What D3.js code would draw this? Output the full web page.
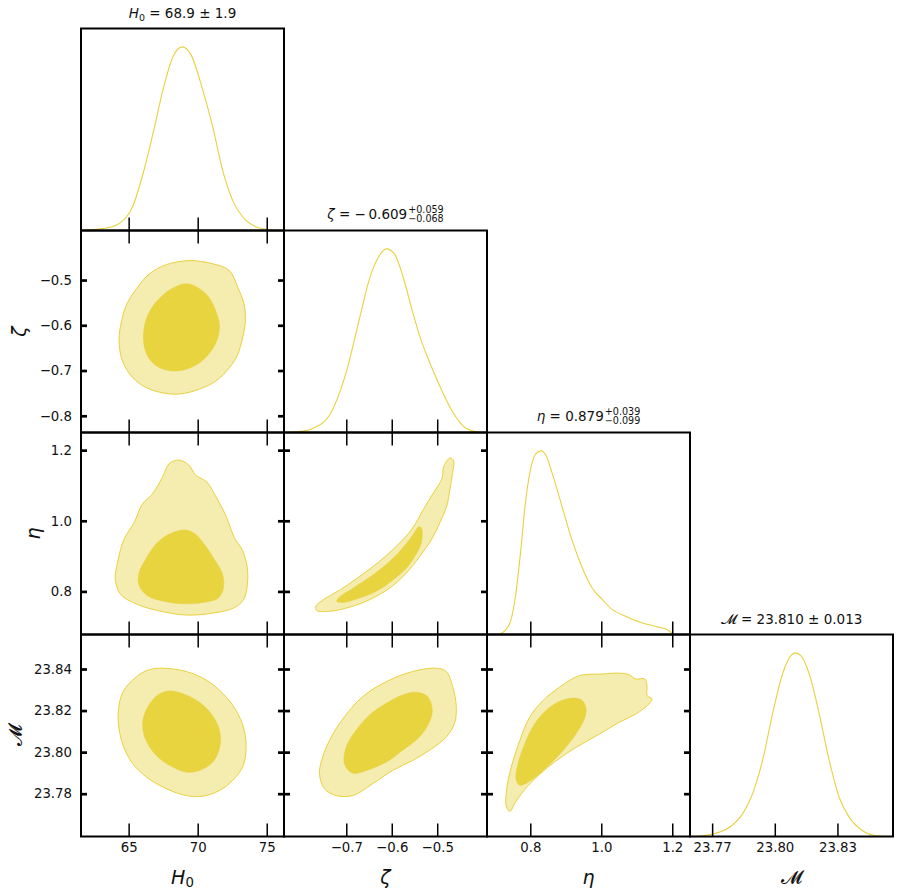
<!DOCTYPE html>
<html>
<head>
<meta charset="utf-8">
<script src="https://cdn.jsdelivr.net/npm/d3@7"></script>
<style>
  body { margin: 0; background: #fff; font-family: "DejaVu Sans", sans-serif; }
  svg { display: block; }
</style>
</head>
<body>
<div id="chart"></div>
<script>

// parameters, axis ranges and ticks
var params = ["H0", "zeta", "eta", "M"];
var domains = [[61.55, 76.25], [-0.837, -0.3905], [0.678, 1.25], [23.7594, 23.8566]];
var xTicks = [[65, 70, 75], [-0.7, -0.6, -0.5], [0.8, 1.0, 1.2], [23.77, 23.80, 23.83]];
var xTickLabels = [["65", "70", "75"], ["\u22120.7", "\u22120.6", "\u22120.5"], ["0.8", "1.0", "1.2"], ["23.77", "23.80", "23.83"]];
var yTicks = [[], [-0.8, -0.7, -0.6, -0.5], [0.8, 1.0, 1.2], [23.78, 23.80, 23.82, 23.84]];
var yTickLabels = [[], ["\u22120.8", "\u22120.7", "\u22120.6", "\u22120.5"], ["0.8", "1.0", "1.2"], ["23.78", "23.80", "23.82", "23.84"]];

// titles
var titleSym = ["H", "\u03b6", "\u03b7", "\ud835\udcdc"];
var titleSub = ["0", "", "", ""];
var titleMean = ["68.9", "\u2212\u20090.609", "0.879", "23.810"];
var titlePlus = ["1.9", "+0.059", "+0.039", "0.013"];
var titleMinus = [null, "\u22120.068", "\u22120.099", null];

// 1D marginals (relative density, peak = 1)
var h0X = [61.6, 62.9, 63.8, 64.36, 65.32, 66.04, 66.76, 67.48, 68.2, 68.88, 69.53, 70.37, 71.09, 71.81, 72.53, 73.5, 74.2, 74.94, 76.2];
var h0Y = [0.0, 0.009, 0.02, 0.04, 0.136, 0.309, 0.527, 0.764, 0.945, 1.0, 0.955, 0.764, 0.564, 0.327, 0.164, 0.055, 0.02, 0.007, 0.0];
var zetaX = [-0.836, -0.80, -0.774, -0.737, -0.700, -0.671, -0.649, -0.627, -0.612, -0.594, -0.576, -0.554, -0.539, -0.517, -0.495, -0.466, -0.436, -0.41, -0.391];
var zetaY = [0.0, 0.006, 0.022, 0.094, 0.33, 0.62, 0.837, 0.964, 1.0, 0.973, 0.855, 0.656, 0.529, 0.384, 0.257, 0.112, 0.022, 0.002, 0.0];
var etaX = [0.713, 0.741, 0.759, 0.773, 0.787, 0.802, 0.816, 0.830, 0.844, 0.862, 0.890, 0.918, 0.946, 0.974, 1.002, 1.030, 1.068, 1.114, 1.161, 1.185, 1.203];
var etaY = [0.0, 0.055, 0.219, 0.456, 0.730, 0.912, 0.985, 1.0, 0.976, 0.876, 0.693, 0.511, 0.365, 0.255, 0.192, 0.137, 0.10, 0.064, 0.04, 0.027, 0.0];
var mX = [23.7605, 23.7701, 23.7781, 23.7845, 23.7893, 23.7941, 23.7989, 23.8037, 23.8077, 23.8098, 23.8125, 23.8165, 23.8213, 23.8261, 23.8309, 23.8357, 23.8421, 23.8485, 23.8565];
var mY = [0, 0.013, 0.049, 0.122, 0.231, 0.413, 0.667, 0.885, 0.985, 1.0, 0.985, 0.885, 0.667, 0.413, 0.211, 0.104, 0.031, 0.004, 0];

// 2D credible regions, [x, y] in data units (95% outer, 68% inner)
var zetaH0Outer = [[69.41,-0.457],[71.09,-0.464],[72.29,-0.479],[72.89,-0.515],[73.37,-0.555],[73.45,-0.592],[73.25,-0.628],[72.89,-0.665],[72.29,-0.694],[71.33,-0.723],[70.13,-0.741],[68.69,-0.752],[67.25,-0.748],[66.04,-0.734],[65.08,-0.708],[64.48,-0.672],[64.31,-0.628],[64.48,-0.592],[64.84,-0.555],[65.57,-0.519],[66.52,-0.486],[67.73,-0.466]];
var zetaH0Inner = [[69.17,-0.508],[70.13,-0.519],[70.85,-0.540],[71.33,-0.570],[71.57,-0.599],[71.45,-0.628],[70.97,-0.657],[70.13,-0.683],[69.17,-0.697],[68.20,-0.701],[67.25,-0.694],[66.52,-0.675],[66.16,-0.650],[66.09,-0.614],[66.40,-0.577],[67.01,-0.548],[67.97,-0.522]];

var etaH0Outer = [[68.64,1.172],[69.36,1.158],[69.84,1.130],[70.68,1.109],[71.28,1.071],[71.88,1.028],[72.24,0.995],[72.65,0.952],[73.21,0.919],[73.57,0.872],[73.61,0.824],[73.33,0.777],[72.61,0.753],[71.16,0.739],[69.24,0.733],[67.32,0.744],[65.64,0.763],[64.43,0.791],[64.03,0.834],[64.19,0.881],[64.67,0.948],[65.40,0.995],[65.99,1.047],[66.72,1.076],[67.44,1.123],[67.92,1.161]];
var etaH0Inner = [[69.12,0.974],[69.84,0.962],[70.56,0.929],[71.28,0.886],[71.76,0.853],[71.88,0.815],[71.52,0.782],[70.44,0.769],[69.00,0.765],[67.56,0.772],[66.36,0.788],[65.76,0.817],[65.76,0.853],[66.24,0.891],[66.96,0.933],[67.92,0.962]];

var mH0Outer = [[67.25,23.8404],[69.17,23.8388],[70.61,23.8347],[71.81,23.8283],[72.77,23.8202],[73.37,23.8106],[73.50,23.8009],[73.25,23.7928],[72.53,23.7864],[71.57,23.7815],[70.37,23.7788],[69.17,23.7791],[67.73,23.7824],[66.29,23.7880],[65.21,23.7952],[64.48,23.8057],[64.24,23.8186],[64.60,23.8291],[65.57,23.8363],[66.29,23.8392]];
var mH0Inner = [[67.97,23.8294],[69.17,23.8275],[70.37,23.8227],[71.21,23.8162],[71.62,23.8090],[71.57,23.8017],[71.09,23.7952],[70.13,23.7912],[69.17,23.7904],[68.20,23.7928],[67.25,23.7969],[66.52,23.8025],[66.09,23.8090],[66.04,23.8154],[66.40,23.8218],[67.12,23.8275]];

var etaZetaOuter = [[-0.472,1.178],[-0.464,1.170],[-0.466,1.137],[-0.472,1.090],[-0.479,1.042],[-0.494,0.995],[-0.512,0.948],[-0.538,0.900],[-0.567,0.853],[-0.604,0.810],[-0.648,0.777],[-0.691,0.756],[-0.735,0.744],[-0.765,0.746],[-0.767,0.758],[-0.750,0.777],[-0.713,0.805],[-0.670,0.843],[-0.626,0.886],[-0.589,0.929],[-0.556,0.976],[-0.530,1.033],[-0.508,1.080],[-0.490,1.118],[-0.485,1.156]];
var etaZetaInner = [[-0.539,0.984],[-0.534,0.976],[-0.535,0.938],[-0.549,0.900],[-0.567,0.867],[-0.596,0.834],[-0.633,0.801],[-0.670,0.782],[-0.706,0.769],[-0.721,0.772],[-0.713,0.786],[-0.684,0.810],[-0.640,0.848],[-0.596,0.895],[-0.560,0.948]];

var mZetaOuter = [[-0.502,23.8404],[-0.480,23.8388],[-0.466,23.8315],[-0.458,23.8218],[-0.462,23.8138],[-0.480,23.8073],[-0.517,23.8009],[-0.554,23.7960],[-0.598,23.7912],[-0.642,23.7848],[-0.686,23.7791],[-0.722,23.7791],[-0.748,23.7824],[-0.759,23.7896],[-0.752,23.7976],[-0.733,23.8073],[-0.704,23.8170],[-0.664,23.8267],[-0.612,23.8339],[-0.554,23.8388]];
var mZetaInner = [[-0.546,23.8288],[-0.521,23.8267],[-0.511,23.8202],[-0.517,23.8146],[-0.539,23.8073],[-0.576,23.8009],[-0.612,23.7952],[-0.656,23.7912],[-0.686,23.7899],[-0.704,23.7944],[-0.700,23.8025],[-0.678,23.8106],[-0.649,23.8178],[-0.612,23.8235],[-0.576,23.8275]];

var mEtaOuter = [[0.938,23.8368],[1.003,23.8376],[1.050,23.8380],[1.078,23.8373],[1.097,23.8352],[1.123,23.8352],[1.129,23.8312],[1.129,23.8272],[1.143,23.8256],[1.134,23.8231],[1.097,23.8183],[1.050,23.8143],[0.994,23.8086],[0.928,23.8022],[0.872,23.7957],[0.826,23.7893],[0.788,23.7828],[0.760,23.7764],[0.742,23.7715],[0.732,23.7740],[0.734,23.7828],[0.746,23.7925],[0.770,23.8054],[0.798,23.8167],[0.835,23.8247],[0.882,23.8312]];
var mEtaInner = [[0.924,23.8260],[0.947,23.8247],[0.957,23.8207],[0.952,23.8159],[0.928,23.8086],[0.891,23.8006],[0.844,23.7925],[0.798,23.7860],[0.770,23.7841],[0.760,23.7868],[0.765,23.7941],[0.784,23.8038],[0.812,23.8135],[0.849,23.8207],[0.887,23.8247]];

var marginals = [[h0X, h0Y], [zetaX, zetaY], [etaX, etaY], [mX, mY]];
var contours = {
  "1,0": [zetaH0Outer, zetaH0Inner],
  "2,0": [etaH0Outer, etaH0Inner],
  "3,0": [mH0Outer, mH0Inner],
  "2,1": [etaZetaOuter, etaZetaInner],
  "3,1": [mZetaOuter, mZetaInner],
  "3,2": [mEtaOuter, mEtaInner]
};

var width = 902, height = 894
  , gridLeft = 81, gridTop = 28.5
  , pw = 203, ph = 202
  , n = params.length
  , lineColor = "#e8d13f"
  , fills = ["#f5ecb0", "#e8d43f"]

var svg = d3.select("#chart").append("svg")
    .attr("width", width)
    .attr("height", height)

function xScale(j) {
  return d3.scaleLinear().domain(domains[j]).range([gridLeft + j*pw, gridLeft + (j+1)*pw])
}
function yScale(i) {
  return d3.scaleLinear().domain(domains[i]).range([gridTop + (i+1)*ph, gridTop + i*ph])
}

var cell = svg.append("g")

for (var i = 0; i < n; i++) {
  for (var j = 0; j <= i; j++) {
    var x = xScale(j)
      , x0 = gridLeft + j*pw, y0 = gridTop + i*ph
      , g = cell.append("g")

    g.append("clipPath").attr("id", "clip" + i + j)
      .append("rect").attr("x", x0).attr("y", y0).attr("width", pw).attr("height", ph)

    var plot = g.append("g").attr("clip-path", "url(#clip" + i + j + ")")

    if (i == j) {
      var yd = d3.scaleLinear().domain([0, 1.1]).range([y0 + ph, y0])
      var pts = d3.zip(marginals[j][0], marginals[j][1])
      plot.append("path")
          .attr("d", d3.line().x(function(d) { return x(d[0]) }).y(function(d) { return yd(d[1]) }).curve(d3.curveMonotoneX)(pts))
          .style("fill", "none")
          .style("stroke", lineColor)
          .style("stroke-width", 1.1)
    } else {
      var y = yScale(i)
      var shape = d3.line()
          .x(function(d) { return x(d[0]) })
          .y(function(d) { return y(d[1]) })
          .curve(d3.curveCatmullRomClosed.alpha(0.5))
      plot.selectAll(".region")
          .data(contours[i + "," + j])
        .enter().append("path")
          .attr("class", "region")
          .attr("d", shape)
          .style("fill", function(d, k) { return fills[k] })
          .style("stroke", lineColor)
          .style("stroke-width", function(d, k) { return k == 0 ? 1 : 0.6 })
    }

    // frame
    g.append("rect")
        .attr("x", x0).attr("y", y0).attr("width", pw).attr("height", ph)
        .style("fill", "none").style("stroke", "#000").style("stroke-width", 2)

    // x ticks, inward
    var bottom = g.append("g")
        .attr("class", "xax")
        .attr("transform", "translate(0," + (y0 + ph) + ")")
        .call(d3.axisBottom(x).tickValues(xTicks[j]).tickSize(-13).tickPadding(6.5)
          .tickFormat(function(d, k) { return i == n-1 ? xTickLabels[j][k] : "" }))
    bottom.select(".domain").remove()

    if (i != j) {
      var topAx = g.append("g")
          .attr("class", "xax")
          .attr("transform", "translate(0," + y0 + ")")
          .call(d3.axisTop(x).tickValues(xTicks[j]).tickSize(-13).tickFormat(""))
      topAx.select(".domain").remove()

      var y = yScale(i)
      var leftAx = g.append("g")
          .attr("class", "yax")
          .attr("transform", "translate(" + x0 + ",0)")
          .call(d3.axisLeft(y).tickValues(yTicks[i]).tickSize(-6).tickPadding(9)
            .tickFormat(function(d, k) { return j == 0 ? yTickLabels[i][k] : "" }))
      leftAx.select(".domain").remove()

      var rightAx = g.append("g")
          .attr("class", "yax")
          .attr("transform", "translate(" + (x0 + pw) + ",0)")
          .call(d3.axisRight(y).tickValues(yTicks[i]).tickSize(-6).tickFormat(""))
      rightAx.select(".domain").remove()
    }
  }
}

cell.selectAll(".xax .tick line").style("stroke-width", 1.5)
cell.selectAll(".yax .tick line").style("stroke-width", 2.7)
cell.selectAll(".tick").attr("color", "#000")
cell.selectAll(".xax, .yax")
    .attr("font-family", "DejaVu Sans")
    .attr("font-size", 13.3)
cell.selectAll(".tick text").style("fill", "#111")

// axis labels
var xLabelY = 883.5
  , yLabelX = [0, 19, 33, 15]

function symbol(sel, k, size) {
  if (k == 3) {
    sel.append("tspan").text(titleSym[k])
  } else {
    sel.append("tspan").style("font-style", "italic").text(titleSym[k])
    if (titleSub[k]) sel.append("tspan").attr("font-size", size*0.7).attr("dy", size*0.2).text(titleSub[k])
  }
}

for (var k = 0; k < n; k++) {
  var t = svg.append("text")
      .attr("x", gridLeft + (k + 0.5)*pw)
      .attr("y", xLabelY)
      .attr("text-anchor", "middle")
      .attr("font-size", 19)
      .style("fill", "#111")
  symbol(t, k, 19)

  if (k > 0) {
    var cy = gridTop + (k + 0.5)*ph
    var ty = svg.append("text")
        .attr("transform", "translate(" + yLabelX[k] + "," + cy + ") rotate(-90)")
        .attr("text-anchor", "middle")
        .attr("dy", "0.35em")
        .attr("font-size", 19)
        .style("fill", "#111")
    symbol(ty, k, 19)
  }
}

// titles above the diagonal
for (var k = 0; k < n; k++) {
  var cx = gridLeft + (k + 0.5)*pw
    , base = gridTop + k*ph - (titleMinus[k] ? 12 : 10.5)
    , tg = svg.append("g")
    , main = tg.append("text").attr("font-size", 13.5).style("fill", "#111")

  symbol(main, k, 13.5)
  if (titleMinus[k]) {
    main.append("tspan").text(" = " + titleMean[k])
    var w = main.node().getComputedTextLength()
    var sup = tg.append("text").attr("x", w + 1).attr("y", -6).attr("font-size", 9.6).style("fill", "#111").text(titlePlus[k])
    var sub = tg.append("text").attr("x", w + 1).attr("y", 3.5).attr("font-size", 9.6).style("fill", "#111").text(titleMinus[k])
    var total = w + 1 + Math.max(sup.node().getComputedTextLength(), sub.node().getComputedTextLength())
    tg.attr("transform", "translate(" + (cx - total/2) + "," + base + ")")
  } else {
    main.append("tspan").attr("dy", k == 0 ? -13.5*0.2 : 0).text(" = " + titleMean[k] + " \u00b1 " + titlePlus[k])
    var w = main.node().getComputedTextLength()
    tg.attr("transform", "translate(" + (cx - w/2) + "," + base + ")")
  }
}

</script>
</body>
</html>
